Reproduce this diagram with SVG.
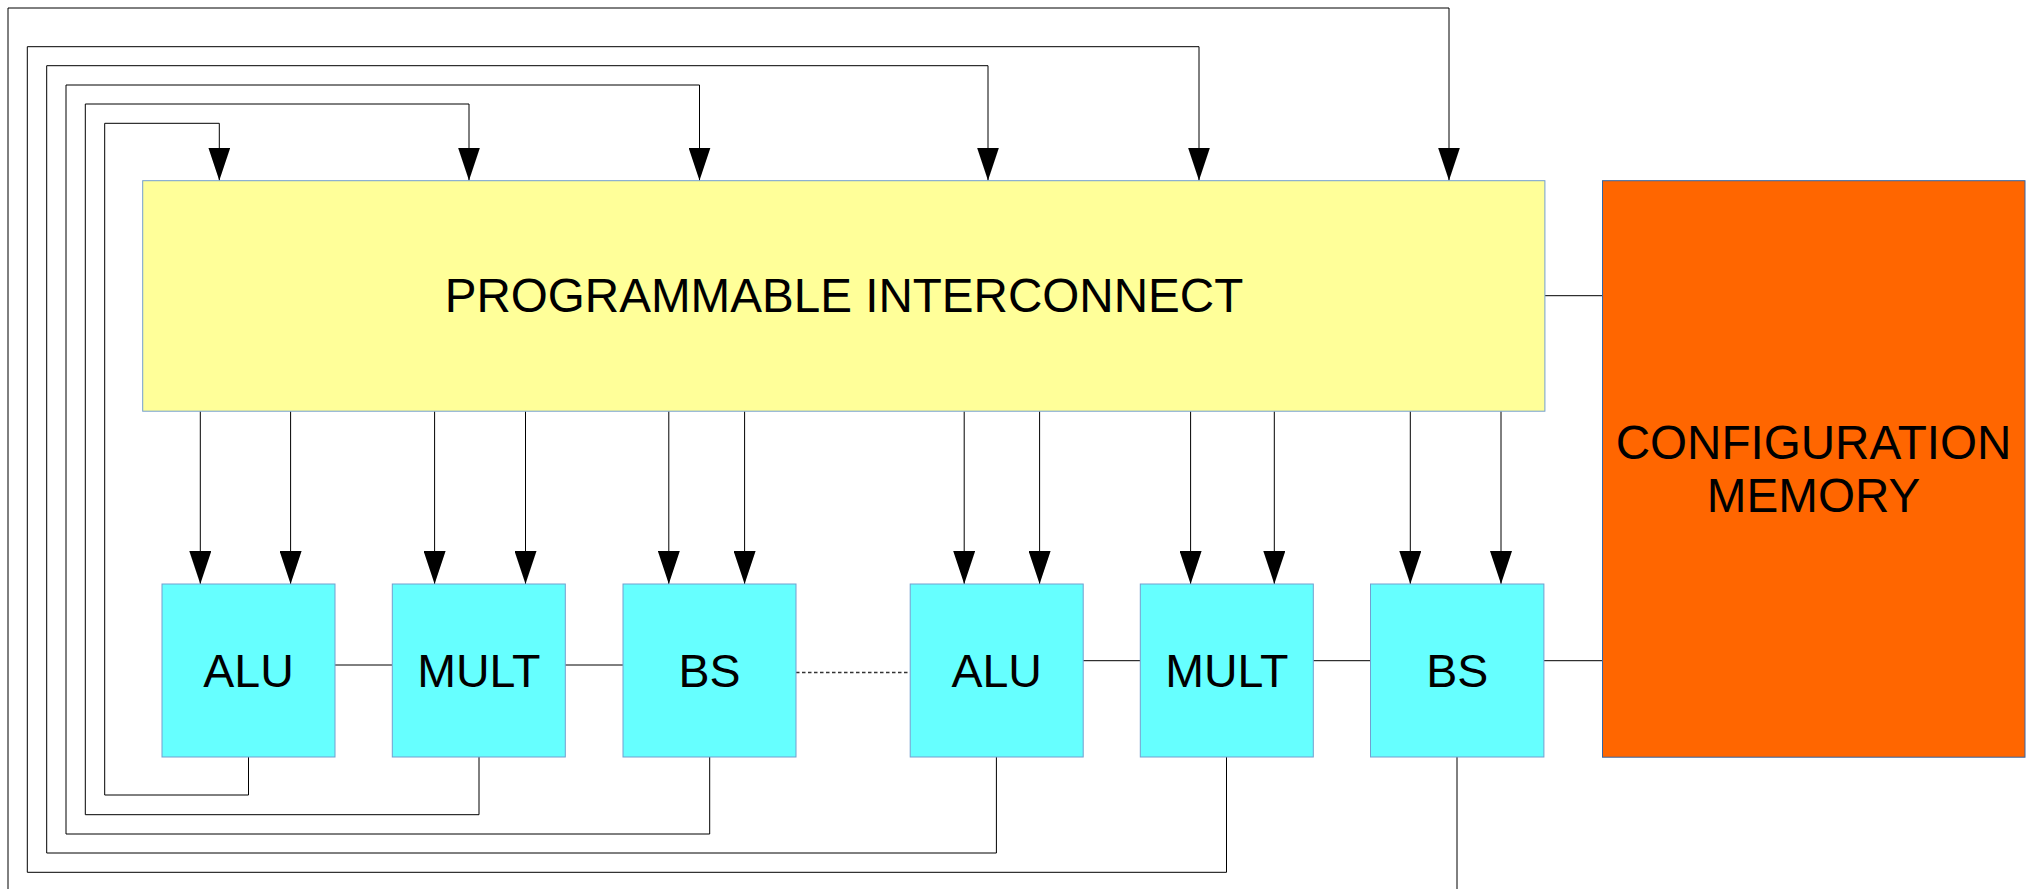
<svg xmlns="http://www.w3.org/2000/svg" width="2029" height="889" viewBox="0 0 2029 889">
<style>
.bg{fill:#ffffff}
.blk{fill:#66ffff;stroke:#729fcf;stroke-width:1}
.ic{fill:#ffff99;stroke:#729fcf;stroke-width:1}
.cm{fill:#ff6600;stroke:#3465a4;stroke-width:1}
.lbl{font-family:"Liberation Sans",Arial,sans-serif;font-size:46.5px;fill:#000;text-anchor:middle}
.big{font-size:47.6px}
.w{fill:none;stroke:#000;stroke-width:1}
.ar{fill:none;stroke:#000;stroke-width:1;marker-end:url(#ah)}
.dot{fill:none;stroke:#333;stroke-width:1.5;stroke-dasharray:3.5,2.5}
</style>
<defs>
<marker id="ah" markerUnits="userSpaceOnUse" viewBox="0 0 33 22" markerWidth="33" markerHeight="22" refX="33" refY="11" orient="auto">
<path d="M0,0 L33,11 L0,22 z" fill="#000"/>
</marker>
</defs>
<rect class="bg" x="0" y="0" width="2029" height="889"/>

<g id="connectors">
<path class="ar" d="M248.5,757 V795 H104.7 V123.3 H219.3 V180.5"/>
<path class="ar" d="M479,757 V814.7 H85.3 V104 H469 V180.5"/>
<path class="ar" d="M709.7,757 V834 H66 V85 H699.5 V180.5"/>
<path class="ar" d="M996.4,757 V853 H46.7 V65.7 H988 V180.5"/>
<path class="ar" d="M1226.5,757 V872.3 H27.3 V46.7 H1199 V180.5"/>
<path class="w" d="M1457,757 V895"/>
<path class="ar" d="M8,895 V8 H1449 V180.5"/>
<path class="ar" d="M200.3,411.3 V584"/>
<path class="ar" d="M290.6,411.3 V584"/>
<path class="ar" d="M434.6,411.3 V584"/>
<path class="ar" d="M525.5,411.3 V584"/>
<path class="ar" d="M668.8,411.3 V584"/>
<path class="ar" d="M744.6,411.3 V584"/>
<path class="ar" d="M964.2,411.3 V584"/>
<path class="ar" d="M1039.6,411.3 V584"/>
<path class="ar" d="M1190.6,411.3 V584"/>
<path class="ar" d="M1274.3,411.3 V584"/>
<path class="ar" d="M1410.3,411.3 V584"/>
<path class="ar" d="M1501,411.3 V584"/>
<path class="w" d="M335,665 H392"/>
<path class="w" d="M565,665 H623"/>
<path class="dot" d="M796,672.5 H910"/>
<path class="w" d="M1083,660.7 H1140"/>
<path class="w" d="M1313,660.7 H1370.5"/>
<path class="w" d="M1544,660.7 H1602.5"/>
<path class="w" d="M1545,295.7 H1602.5"/>
</g>

<g id="interconnect">
<rect class="ic" x="142.7" y="180.7" width="1402.2" height="230.5"/>
<text class="lbl big" x="844" y="312.3">PROGRAMMABLE INTERCONNECT</text>
</g>
<g id="config">
<rect class="cm" x="1602.5" y="180.7" width="422.5" height="576.5"/>
<text class="lbl big" x="1813.5" y="459.3">CONFIGURATION</text>
<text class="lbl big" x="1813.5" y="512.3">MEMORY</text>
</g>
<g id="alu1">
<rect class="blk" x="162" y="584" width="173" height="173"/>
<text class="lbl" x="248.5" y="686.7">ALU</text>
</g>
<g id="mult1">
<rect class="blk" x="392.3" y="584" width="173" height="173"/>
<text class="lbl" x="478.8" y="686.7">MULT</text>
</g>
<g id="bs1">
<rect class="blk" x="623" y="584" width="173" height="173"/>
<text class="lbl" x="709.5" y="686.7">BS</text>
</g>
<g id="alu2">
<rect class="blk" x="910.2" y="584" width="173" height="173"/>
<text class="lbl" x="996.7" y="686.7">ALU</text>
</g>
<g id="mult2">
<rect class="blk" x="1140.3" y="584" width="173" height="173"/>
<text class="lbl" x="1226.8" y="686.7">MULT</text>
</g>
<g id="bs2">
<rect class="blk" x="1370.5" y="584" width="173.4" height="173"/>
<text class="lbl" x="1457.2" y="686.7">BS</text>
</g>
</svg>
